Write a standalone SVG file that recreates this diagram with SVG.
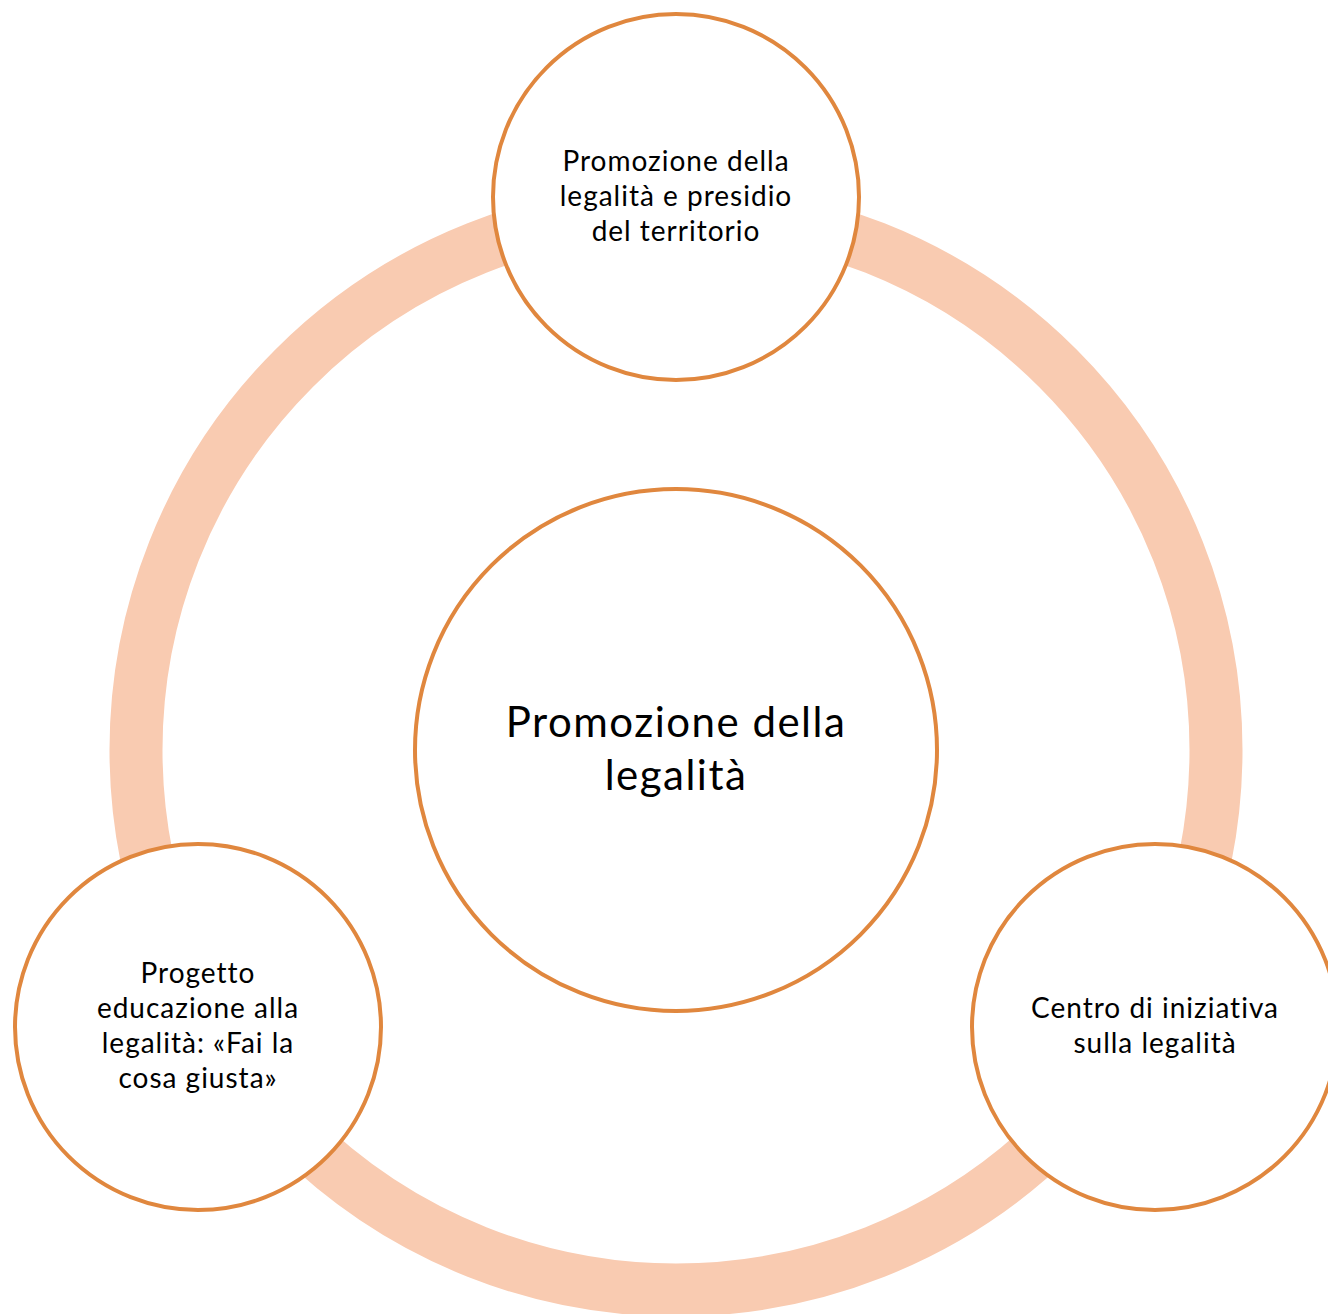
<svg xmlns="http://www.w3.org/2000/svg" width="1328" height="1314" viewBox="0 0 1328 1314">
<style>
.node{fill:#FFFFFF;stroke:#E0873E;stroke-width:4}
.t{font-family:Lato,"Open Sans","Liberation Sans",sans-serif;font-size:28px;letter-spacing:1px;fill:#000;text-anchor:middle}
.big{font-size:42px;letter-spacing:1.5px}
</style>
<rect width="1328" height="1314" fill="#FFFFFF"/>
<g id="connectors">
<circle cx="676" cy="750" r="540" fill="none" stroke="#F9CBB1" stroke-width="53"/>
</g>
<g id="center">
<circle class="node" cx="676" cy="750" r="261"/>
<text class="t big" x="676" y="737">Promozione della</text>
<text class="t big" x="676" y="790">legalità</text>
</g>
<g id="top">
<circle class="node" cx="676" cy="197" r="183"/>
<text class="t" x="676" y="171">Promozione della</text>
<text class="t" x="676" y="206">legalità e presidio</text>
<text class="t" x="676" y="241">del territorio</text>
</g>
<g id="left">
<circle class="node" cx="198" cy="1027" r="183"/>
<text class="t" x="198" y="983">Progetto</text>
<text class="t" x="198" y="1018">educazione alla</text>
<text class="t" x="198" y="1053">legalità: «Fai la</text>
<text class="t" x="198" y="1088">cosa giusta»</text>
</g>
<g id="right">
<circle class="node" cx="1155" cy="1027" r="183"/>
<text class="t" x="1155" y="1018">Centro di iniziativa</text>
<text class="t" x="1155" y="1053">sulla legalità</text>
</g>
</svg>
